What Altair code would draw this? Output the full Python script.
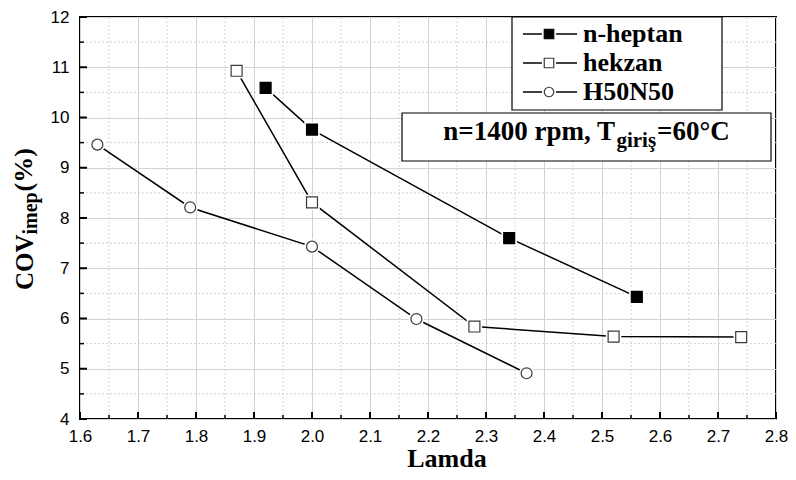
import altair as alt
import pandas as pd

# ---------------- data ----------------
series_names = ["n-heptan", "hekzan", "H50N50"]
heptan_lamda = [1.92, 2.00, 2.34, 2.56]
heptan_cov = [10.59, 9.76, 7.60, 6.43]
hekzan_lamda = [1.87, 2.00, 2.28, 2.52, 2.74]
hekzan_cov = [10.93, 8.31, 5.84, 5.64, 5.63]
h50_lamda = [1.63, 1.79, 2.00, 2.18, 2.37]
h50_cov = [9.46, 8.21, 7.43, 5.99, 4.91]

x_major = [1.6, 1.7, 1.8, 1.9, 2.0, 2.1, 2.2, 2.3, 2.4, 2.5, 2.6, 2.7, 2.8]
x_minor = [1.65, 1.75, 1.85, 1.95, 2.05, 2.15, 2.25, 2.35, 2.45, 2.55, 2.65, 2.75]
y_major = [4, 5, 6, 7, 8, 9, 10, 11, 12]
y_minor = [4.5, 5.5, 6.5, 7.5, 8.5, 9.5, 10.5, 11.5]

x_title = "Lamda"
y_title_parts = ["COV", "imep", "(%)"]
note_parts = ["n=1400 rpm, T", "giriş", "=60°C"]

# ---------------- tables ----------------
rows = []
for name, xs, ys in [(series_names[0], heptan_lamda, heptan_cov),
                     (series_names[1], hekzan_lamda, hekzan_cov),
                     (series_names[2], h50_lamda, h50_cov)]:
    for a, b in zip(xs, ys):
        rows.append({"series": name, "lamda": a, "cov": b})
df = pd.DataFrame(rows)
one = pd.DataFrame({"k": [0]})
leg_df = pd.DataFrame({"series": series_names, "row": list(range(len(series_names)))})

W, H = 696, 402
SERIF = "Liberation Serif"
SANS = "Liberation Sans"
GRID = "#d2d2d2"

xscale = alt.Scale(domain=[1.6, 2.8], nice=False, zero=False)
yscale = alt.Scale(domain=[4, 12], nice=False, zero=False)

shape_sc = alt.Scale(domain=series_names, range=["square", "square", "circle"])
fill_sc = alt.Scale(domain=series_names, range=["black", "white", "white"])
stroke_sc = alt.Scale(domain=series_names, range=["black", "#3a3a3a", "#3a3a3a"])

x_axis = alt.Axis(values=x_major, format=".1f", grid=True, title=None)
y_axis = alt.Axis(values=y_major, format="d", grid=True, title=None)

def X():
    return alt.X("lamda:Q", scale=xscale, axis=x_axis)

def Y():
    return alt.Y("cov:Q", scale=yscale, axis=y_axis)

# minor dotted grid
minor_x = alt.Chart(pd.DataFrame({"lamda": x_minor})).mark_rule(
    color=GRID, strokeDash=[2, 2], strokeWidth=1).encode(x=X())
minor_y = alt.Chart(pd.DataFrame({"cov": y_minor})).mark_rule(
    color=GRID, strokeDash=[2, 2], strokeWidth=1).encode(y=Y())

# inward ticks
tick_xM = alt.Chart(pd.DataFrame({"lamda": x_major})).mark_rule(color="black", strokeWidth=2).encode(
    x=X(), y=alt.value(H), y2=alt.value(H - 7))
tick_xm = alt.Chart(pd.DataFrame({"lamda": x_minor})).mark_rule(color="black", strokeWidth=1.5).encode(
    x=X(), y=alt.value(H), y2=alt.value(H - 4))
tick_yM = alt.Chart(pd.DataFrame({"cov": y_major})).mark_rule(color="black", strokeWidth=2).encode(
    y=Y(), x=alt.value(0), x2=alt.value(7))
tick_ym = alt.Chart(pd.DataFrame({"cov": y_minor})).mark_rule(color="black", strokeWidth=1.5).encode(
    y=Y(), x=alt.value(0), x2=alt.value(4))

base = alt.Chart(df)
lines = base.mark_line(color="black", strokeWidth=1.5).encode(
    x=X(), y=Y(), detail="series:N")
halo = base.mark_point(filled=True, size=240, color="white", opacity=1).encode(
    x=X(), y=Y(), shape=alt.Shape("series:N", scale=shape_sc, legend=None))
pts = base.mark_point(size=120, strokeWidth=1.2, opacity=1).encode(
    x=X(), y=Y(),
    shape=alt.Shape("series:N", scale=shape_sc, legend=None),
    fill=alt.Fill("series:N", scale=fill_sc, legend=None),
    stroke=alt.Stroke("series:N", scale=stroke_sc, legend=None))

# ---------------- legend (manual) ----------------
LX0, LX1, LY0, LY1 = 432, 642, 0, 93
leg_box = alt.Chart(one).mark_rect(fill="white", stroke="black", strokeWidth=1.2).encode(
    x=alt.value(LX0), x2=alt.value(LX1), y=alt.value(LY0), y2=alt.value(LY1))
leg = alt.Chart(leg_df).transform_calculate(ly="17 + 29 * datum.row")
leg_line = leg.mark_rule(color="black", strokeWidth=1.5).encode(
    x=alt.value(443), x2=alt.value(497), y=alt.Y("ly:Q", scale=None))
leg_halo = leg.mark_point(filled=True, size=200, color="white", opacity=1).encode(
    x=alt.value(469), y=alt.Y("ly:Q", scale=None),
    shape=alt.Shape("series:N", scale=shape_sc, legend=None))
leg_pts = leg.mark_point(size=90, strokeWidth=1.2, opacity=1).encode(
    x=alt.value(469), y=alt.Y("ly:Q", scale=None),
    shape=alt.Shape("series:N", scale=shape_sc, legend=None),
    fill=alt.Fill("series:N", scale=fill_sc, legend=None),
    stroke=alt.Stroke("series:N", scale=stroke_sc, legend=None))
leg_txt = leg.mark_text(align="left", baseline="middle", font=SERIF, fontWeight="bold",
                        fontSize=26, color="black").encode(
    x=alt.value(503), y=alt.Y("ly:Q", scale=None), text="series:N")

# ---------------- annotation box ----------------
tnr_b = {'n': 556, '=': 570, '1': 500, '4': 500, '0': 500, ' ': 250, 'r': 444, 'p': 556,
         'm': 833, ',': 250, 'T': 667, 'g': 500, 'i': 278, 'ş': 389, '6': 500, '°': 400, 'C': 722}
def tw(s, size):
    return sum(tnr_b.get(c, 500) for c in s) * size / 1000.0

NX0, NX1, NY0, NY1 = 322, 691, 96, 144
MS, SS = 27, 21
w0, w1, w2 = tw(note_parts[0], MS), tw(note_parts[1], SS), tw(note_parts[2], MS)
start = (NX0 + NX1) / 2 - (w0 + w1 + w2 + 2) / 2
note_box = alt.Chart(one).mark_rect(fill="white", stroke="black", strokeWidth=1.2).encode(
    x=alt.value(NX0), x2=alt.value(NX1), y=alt.value(NY0), y2=alt.value(NY1))

def txt(s, x, y, size, angle=0, align="left"):
    kw = dict(text=s, align=align, baseline="alphabetic", font=SERIF, fontWeight="bold",
              fontSize=size, color="black")
    if angle:
        kw["angle"] = angle
    return alt.Chart(one).mark_text(**kw).encode(x=alt.value(x), y=alt.value(y))

note0 = txt(note_parts[0], start, 123, MS)
note1 = txt(note_parts[1], start + w0 + 1, 130, SS)
note2 = txt(note_parts[2], start + w0 + w1 + 2, 123, MS)

# ---------------- axis titles ----------------
yt0 = txt(y_title_parts[0], -47, 273, 25, 270)
yt1 = txt(y_title_parts[1], -43, 273 - 55.5, 20, 270)
yt2 = txt(y_title_parts[2], -48, 273 - 55.5 - 43, 26, 270)
xt = txt(x_title, 367, H + 48, 26, 0, "center")

chart = alt.layer(
    minor_x, minor_y, lines, halo, pts, tick_xM, tick_xm, tick_yM, tick_ym,
    leg_box, leg_line, leg_halo, leg_pts, leg_txt,
    note_box, note0, note1, note2, yt0, yt1, yt2, xt
).properties(
    width=W, height=H,
    autosize=alt.AutoSizeParams(type="none"),
    padding={"left": 72, "top": 9, "right": 12, "bottom": 56},
    background="white"
).configure_view(
    stroke="black", strokeWidth=2
).configure_axis(
    grid=True, gridColor=GRID, gridWidth=1, ticks=False, domain=False,
    labelFont=SANS, labelFontSize=17, labelColor="black", labelFlush=False
).configure_axisX(
    labelPadding=9
).configure_axisY(
    labelPadding=11
)

chart.save("out.html", embed_options={"renderer": "svg", "actions": False})
